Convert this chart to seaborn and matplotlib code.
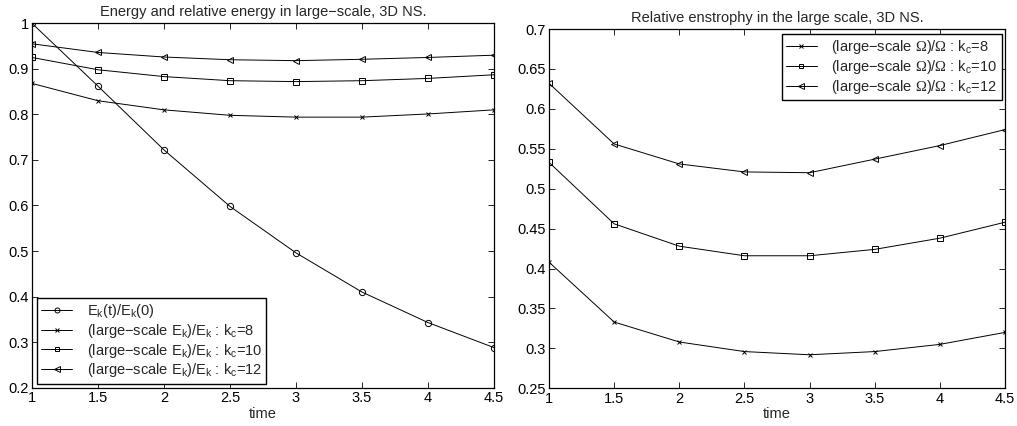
import numpy as np
import pandas as pd
import matplotlib
matplotlib.use("Agg")
import matplotlib.pyplot as plt
import seaborn as sns

# Sample times
time = [1.0, 1.5, 2.0, 2.5, 3.0, 3.5, 4.0, 4.5]

# Energy: total decay and large-scale fraction for three cutoffs
energy_total = [1.000, 0.862, 0.722, 0.598, 0.496, 0.410, 0.343, 0.288]
energy_kc8 = [0.868, 0.830, 0.810, 0.798, 0.794, 0.794, 0.801, 0.810]
energy_kc10 = [0.925, 0.898, 0.883, 0.874, 0.872, 0.874, 0.879, 0.887]
energy_kc12 = [0.955, 0.936, 0.926, 0.920, 0.918, 0.921, 0.925, 0.930]

# Enstrophy: large-scale fraction for three cutoffs
enst_kc8 = [0.408, 0.333, 0.308, 0.296, 0.292, 0.296, 0.305, 0.320]
enst_kc10 = [0.533, 0.456, 0.428, 0.416, 0.416, 0.424, 0.438, 0.458]
enst_kc12 = [0.632, 0.556, 0.531, 0.521, 0.520, 0.537, 0.554, 0.574]

energy_ticks = [0.2, 0.3, 0.4, 0.5, 0.6, 0.7, 0.8, 0.9, 1.0]
enst_ticks = [0.25, 0.3, 0.35, 0.4, 0.45, 0.5, 0.55, 0.6, 0.65, 0.7]
time_ticks = [1, 1.5, 2, 2.5, 3, 3.5, 4, 4.5]

FS = 10.5

sns.set_style("white")
plt.rcParams["font.family"] = ["Liberation Sans", "DejaVu Sans"]
plt.rcParams["mathtext.fontset"] = "custom"
plt.rcParams["mathtext.rm"] = "Liberation Serif"
plt.rcParams["mathtext.it"] = "Liberation Sans:italic"
plt.rcParams["font.size"] = FS

fig = plt.figure(figsize=(10.17, 4.26), dpi=100)
ax1 = fig.add_axes([32 / 1017, 1 - 387.7 / 426, 462 / 1017, 364.4 / 426])
ax2 = fig.add_axes([549 / 1017, 1 - 388.3 / 426, 456 / 1017, 359.3 / 426])

K = r"E$_\mathregular{k}$"
KC = r"k$_\mathregular{c}$"
OM = r"$\mathrm{\Omega}$"

energy_series = [
    (energy_total, "o", 4.5, f"{K}(t)/{K}(0)"),
    (energy_kc8, "x", 3.0, f"(large\u2212scale {K})/{K} : {KC}=8"),
    (energy_kc10, "s", 4.0, f"(large\u2212scale {K})/{K} : {KC}=10"),
    (energy_kc12, "<", 5.0, f"(large\u2212scale {K})/{K} : {KC}=12"),
]
enst_series = [
    (enst_kc8, "x", 3.0, f"(large\u2212scale {OM})/{OM} : {KC}=8"),
    (enst_kc10, "s", 4.0, f"(large\u2212scale {OM})/{OM} : {KC}=10"),
    (enst_kc12, "<", 5.0, f"(large\u2212scale {OM})/{OM} : {KC}=12"),
]

def draw(ax, series):
    for vals, mk, ms, lab in series:
        df = pd.DataFrame({"time": time, "value": vals})
        sns.lineplot(data=df, x="time", y="value", ax=ax, color="black",
                     linewidth=0.7, marker=mk, markersize=ms,
                     markerfacecolor="none", markeredgecolor="black",
                     markeredgewidth=0.7, label=lab)

draw(ax1, energy_series)
draw(ax2, enst_series)

for ax, yt, ylim in [(ax1, energy_ticks, (0.2, 1.0)), (ax2, enst_ticks, (0.25, 0.7))]:
    ax.set_xlim(1, 4.5)
    ax.set_ylim(*ylim)
    ax.set_xticks(time_ticks)
    ax.set_xticklabels([f"{t:g}" for t in time_ticks])
    ax.set_yticks(yt)
    ax.set_yticklabels([f"{v:g}" for v in yt])
    ax.set_xlabel("time", labelpad=1, fontsize=FS)
    ax.set_ylabel("")
    ax.tick_params(direction="in", length=4, width=0.6, top=True, right=True,
                   bottom=True, left=True, pad=2.5, colors="black", labelsize=FS)
    for sp in ax.spines.values():
        sp.set_visible(True)
        sp.set_color("black")
        sp.set_linewidth(0.9)

ax1.set_title("Energy and relative energy in large\u2212scale, 3D NS.", fontsize=FS, pad=5)
ax2.set_title("Relative enstrophy in the large scale, 3D NS.", fontsize=FS, pad=5)

leg_kw = dict(frameon=True, fancybox=False, edgecolor="black", framealpha=1,
              fontsize=FS, handlelength=2.1, handletextpad=1.0, markerscale=0.8,
              labelspacing=0.12, borderpad=0.3, borderaxespad=0)
l1 = ax1.legend(loc="lower left", bbox_to_anchor=(5 / 462, 4 / 364.4), **leg_kw)
l2 = ax2.legend(loc="upper right", bbox_to_anchor=(1 - 3 / 456, 1 - 5 / 359.3), **leg_kw)
for lg in (l1, l2):
    lg.get_frame().set_linewidth(1.0)

fig.savefig("out.png", dpi=100, facecolor="white")
